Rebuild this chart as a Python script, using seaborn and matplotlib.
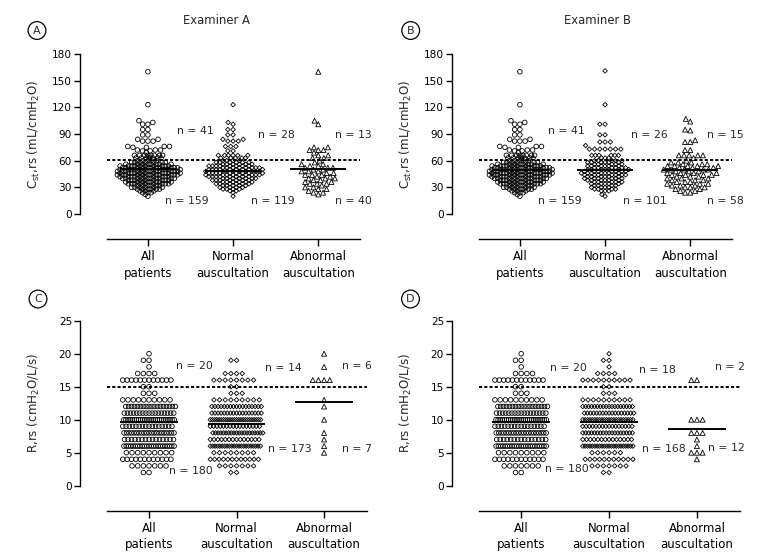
import numpy as np
import pandas as pd
import matplotlib
matplotlib.use("Agg")
import matplotlib.pyplot as plt
import seaborn as sns

# ---------------- data ----------------
groups = ["All\npatients", "Normal\nauscultation", "Abnormal\nauscultation"]

# Cst,rs (mL/cmH2O): values above the cut-off listed one by one,
# values below the cut-off as counts per 2-unit bin
cst_bins = [20, 22, 24, 26, 28, 30, 32, 34, 36, 38, 40, 42, 44, 46, 48, 50, 52, 54, 56, 58, 60]

cstA_normal_high = [123, 103, 101, 95, 95, 89, 89, 84, 84, 82, 82, 82, 76, 76,
                    76, 71, 71, 66, 66, 66, 66, 66, 66, 63, 63, 63, 63, 63]
cstA_normal_counts = [1, 0, 1, 2, 4, 4, 5, 6, 6, 7, 7, 8, 9, 9, 9, 9, 8, 8, 6, 6, 4]

cstA_abn_high = [160, 105, 101, 75, 75, 72, 72, 72, 69, 66, 66, 63, 63]
cstA_abn_counts = [0, 1, 2, 1, 2, 2, 1, 3, 2, 2, 3, 2, 3, 2, 3, 2, 3, 2, 2, 1, 1]

cstB_normal_high = [161, 123, 101, 101, 89, 89, 81, 81, 81, 77, 73, 73, 73,
                    73, 73, 73, 73, 66, 66, 66, 66, 66, 66, 63, 63, 63]
cstB_normal_counts = [1, 1, 0, 3, 4, 4, 4, 5, 5, 6, 6, 6, 7, 7, 7, 7, 6, 6, 5, 6, 5]

cstB_abn_high = [107, 104, 95, 94, 83, 81, 81, 72, 72, 66, 66, 66, 66, 66, 63]
cstB_abn_counts = [0, 0, 2, 2, 2, 3, 3, 3, 3, 3, 3, 3, 4, 4, 3, 5, 3, 5, 3, 3, 1]

# R,rs (cmH2O/L/s): counts per integer value
r_values = [2, 3, 4, 5, 6, 7, 8, 9, 10, 11, 12, 13, 14, 15, 16, 17, 18, 19, 20]
rA_normal_counts = [2, 7, 12, 8, 22, 14, 20, 16, 24, 17, 17, 9, 3, 2, 8, 4, 0, 2, 0]
rA_abn_counts = [0, 0, 0, 1, 1, 1, 1, 0, 1, 0, 1, 1, 0, 0, 4, 0, 1, 0, 1]
rB_normal_counts = [2, 7, 11, 6, 22, 14, 18, 16, 22, 17, 18, 10, 3, 2, 10, 4, 1, 2, 1]
rB_abn_counts = [0, 0, 1, 3, 1, 1, 3, 0, 3, 0, 0, 0, 0, 0, 2, 0, 0, 0, 0]

# group means (horizontal bars)
cstA_means = [50.3, 48.8, 50.6]
cstB_means = [50.0, 49.5, 50.0]
rA_means = [9.6, 9.3, 12.7]
rB_means = [9.6, 9.7, 8.6]

cst_cutoff = 60.5
r_cutoff = 15

nA_cst = (["n = 41", "n = 28", "n = 13"], ["n = 159", "n = 119", "n = 40"])
nB_cst = (["n = 41", "n = 26", "n = 15"], ["n = 159", "n = 101", "n = 58"])
nA_r = (["n = 20", "n = 14", "n = 6"], ["n = 180", "n = 173", "n = 7"])
nB_r = (["n = 20", "n = 18", "n = 2"], ["n = 180", "n = 168", "n = 12"])

# ---------------- build groups ----------------
def expand(bins, counts, extra=()):
    return list(np.repeat(bins, counts).astype(float)) + list(extra)

cstA_normal = expand(cst_bins, cstA_normal_counts, cstA_normal_high)
cstA_abn = expand(cst_bins, cstA_abn_counts, cstA_abn_high)
cst_all = cstA_normal + cstA_abn
cstB_normal = expand(cst_bins, cstB_normal_counts, cstB_normal_high)
cstB_abn = expand(cst_bins, cstB_abn_counts, cstB_abn_high)

rA_normal = expand(r_values, rA_normal_counts)
rA_abn = expand(r_values, rA_abn_counts)
r_all = rA_normal + rA_abn
rB_normal = expand(r_values, rB_normal_counts)
rB_abn = expand(r_values, rB_abn_counts)

# ---------------- styling ----------------
sns.set_style("white")
plt.rcParams["font.family"] = ["DejaVu Sans"]
plt.rcParams["mathtext.fontset"] = "dejavusans"

W, H = 778, 556
fig = plt.figure(figsize=(W / 100, H / 100), dpi=100)

def axrect(left, top, right, bottom):
    return [left / W, 1 - bottom / H, (right - left) / W, (bottom - top) / H]

axA = fig.add_axes(axrect(107, 54, 360, 214))
axB = fig.add_axes(axrect(479, 54, 732, 214))
axC = fig.add_axes(axrect(107, 320.7, 367, 485.7))
axD = fig.add_axes(axrect(479, 320.7, 740, 485.7))

markers = ["o", "D", "^"]
draw_sizes = [3.3, 2.3, 3.6]
cst_place_px = [3.05, 3.5, 4.9]    # swarm spacing for the dense Cst core
cst_sparse_from = 69                # above this value the points are sparse
cst_high_px = 5.0                   # swarm spacing for those sparse points
r_place_px = 5.4                    # max spacing within an R row
r_row_px = 50                       # max row width for R rows
swarm_items = []

cst_label = r"C$_{\mathregular{st}}$,rs (mL/cmH$_{\mathregular{2}}$O)"
r_label = r"R,rs (cmH$_{\mathregular{2}}$O/L/s)"

def panel(ax, datasets, means, cutoff, ymax, step, ylabel, nlabels, npos, kind):
    for gi, (g, vals) in enumerate(zip(groups, datasets)):
        df = pd.DataFrame({"group": [g] * len(vals), "value": vals})
        n0 = len(ax.collections)
        sns.swarmplot(data=df, x="group", y="value", order=groups, ax=ax,
                      marker=markers[gi], size=2, color="black",
                      linewidth=0.2, warn_thresh=1.0)
        for c in ax.collections[n0:]:
            swarm_items.append((c, gi, kind))
    pos = np.arange(len(groups))
    ax.hlines(means, pos - 0.33, pos + 0.33, color="black", lw=1.4, zorder=5)
    ax.axhline(cutoff, color="black", lw=1.4, ls=(0, (1.6, 1.1)), zorder=4)
    ax.set_xlim(-0.48, 2.49)
    ax.set_ylim(0, ymax)
    ax.set_yticks(np.arange(0, ymax + 0.1, step))
    ax.set_xlabel("")
    ax.set_ylabel(ylabel, fontsize=8.6)
    ax.yaxis.set_label_coords(-0.258 * 253 / (ax.get_position().width * W), 0.5)
    for s in ["top", "right"]:
        ax.spines[s].set_visible(False)
    ax.spines["left"].set_position(("outward", 19.4))
    ax.spines["bottom"].set_position(("outward", 18))
    for s in ["left", "bottom"]:
        ax.spines[s].set_linewidth(1.0)
        ax.spines[s].set_color("black")
    ax.tick_params(axis="y", direction="out", length=4.3, width=1.0,
                   labelsize=7.6, pad=1.5, left=True, colors="black")
    ax.tick_params(axis="x", direction="out", length=5, width=1.0,
                   labelsize=8.5, pad=3, bottom=True, colors="black")
    for lab in ax.get_xticklabels():
        lab.set_linespacing(1.35)
    for row in range(2):
        for gi in range(3):
            x, y = npos[row][gi]
            ax.text(x, y, nlabels[row][gi], fontsize=7.8, ha="left",
                    va="center", clip_on=False)

panel(axA, [cst_all, cstA_normal, cstA_abn], cstA_means, cst_cutoff, 180, 30, cst_label,
      nA_cst, [[(0.34, 93), (1.29, 89), (2.2, 89)], [(0.2, 15), (1.21, 15), (2.2, 15)]], "cst")
panel(axB, [cst_all, cstB_normal, cstB_abn], cstB_means, cst_cutoff, 180, 30, cst_label,
      nB_cst, [[(0.33, 93), (1.3, 89), (2.2, 89)], [(0.21, 15), (1.21, 15), (2.2, 15)]], "cst")
panel(axC, [r_all, rA_normal, rA_abn], rA_means, r_cutoff, 25, 5, r_label,
      nA_r, [[(0.31, 18.1), (1.33, 17.8), (2.2, 18.1)], [(0.23, 2.2), (1.36, 5.6), (2.2, 5.6)]], "r")
panel(axD, [r_all, rB_normal, rB_abn], rB_means, r_cutoff, 25, 5, r_label,
      nB_r, [[(0.33, 17.9), (1.34, 17.6), (2.21, 18.0)], [(0.27, 2.5), (1.38, 5.6), (2.13, 5.7)]], "r")

fig.text(216 / W, 1 - 21 / H, "Examiner A", ha="center", va="center", fontsize=8.4)
fig.text(597 / W, 1 - 21 / H, "Examiner B", ha="center", va="center", fontsize=8.4)
for lab, (x, y) in zip("ABCD", [(37, 30.5), (410.7, 30.5), (38, 299), (410.5, 299)]):
    fig.text(x / W, 1 - y / H, lab, ha="center", va="center", fontsize=8,
             bbox=dict(boxstyle="circle,pad=0.35", fc="white", ec="black", lw=0.9))

# swarm spacing: Prism-like, rows are squeezed when they hold many points
px2pt = 72 / 100
for coll, gi, kind in swarm_items:
    yv = coll.get_offsets()[:, 1]
    if kind == "r":
        vals, cnt = np.unique(yv, return_counts=True)
        n_same = cnt[np.searchsorted(vals, yv)]
        spacing = np.minimum(r_place_px, r_row_px / n_same)
    else:
        spacing = np.where(yv > cst_sparse_from, cst_high_px, cst_place_px[gi])
    coll.set_sizes((spacing * px2pt - 0.2) ** 2)

# compute the swarm layout, then draw the markers at their display size
fig.canvas.draw()
for coll, gi, kind in swarm_items:
    if "draw" in coll.__dict__:
        del coll.draw
    coll.set_sizes([draw_sizes[gi] ** 2])
    coll.set_facecolor("none")
    coll.set_edgecolor("black")
    coll.set_linewidth(0.6)

fig.savefig("out.png", dpi=100, facecolor="white")
